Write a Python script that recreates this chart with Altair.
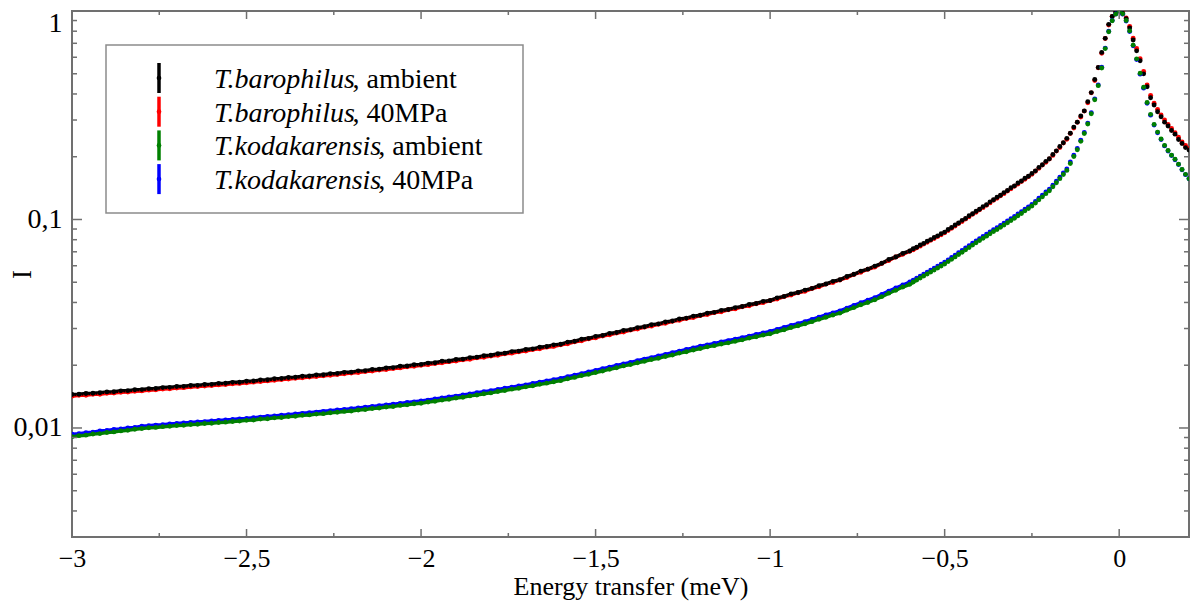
import altair as alt
import numpy as np
import pandas as pd

# ---------------- data ----------------
# energy grid in meV: 0.02 steps in the wings, 0.01 steps near the peak
E_coarse = np.round(np.arange(-3.00, -0.59, 0.02), 2)   # 121 points
E_fine = np.round(np.arange(-0.59, 0.205, 0.01), 2)     # 80 points
energy = np.concatenate([E_coarse, E_fine])

baro_amb = [
    0.01447, 0.01451, 0.01464, 0.01468, 0.01475, 0.01490, 0.01493, 0.01507, 0.01510, 0.01525,
    0.01528, 0.01544, 0.01547, 0.01562, 0.01566, 0.01581, 0.01584, 0.01599, 0.01601, 0.01617,
    0.01619, 0.01636, 0.01639, 0.01655, 0.01657, 0.01675, 0.01680, 0.01699, 0.01703, 0.01722,
    0.01726, 0.01746, 0.01750, 0.01771, 0.01775, 0.01795, 0.01800, 0.01822, 0.01827, 0.01849,
    0.01853, 0.01879, 0.01884, 0.01910, 0.01915, 0.01941, 0.01948, 0.01976, 0.01983, 0.02011,
    0.02018, 0.02048, 0.02057, 0.02089, 0.02097, 0.02129, 0.02140, 0.02175, 0.02187, 0.02222,
    0.02233, 0.02271, 0.02285, 0.02325, 0.02338, 0.02378, 0.02396, 0.02441, 0.02459, 0.02504,
    0.02521, 0.02580, 0.02606, 0.02665, 0.02691, 0.02750, 0.02780, 0.02842, 0.02871, 0.02935,
    0.02963, 0.03029, 0.03060, 0.03126, 0.03157, 0.03224, 0.03258, 0.03332, 0.03365, 0.03439,
    0.03472, 0.03551, 0.03586, 0.03664, 0.03699, 0.03778, 0.03823, 0.03912, 0.03957, 0.04047,
    0.04090, 0.04208, 0.04278, 0.04396, 0.04465, 0.04585, 0.04674, 0.04817, 0.04906, 0.05051,
    0.05137, 0.05329, 0.05458, 0.05652, 0.05780, 0.05975, 0.06163, 0.06425, 0.06611, 0.06875,
    0.07060,
    0.07240, 0.07365, 0.07550, 0.07680, 0.07866, 0.08005, 0.08200, 0.08345, 0.08548, 0.08698,
    0.08950, 0.09148, 0.09415, 0.09624, 0.09905, 0.1012, 0.1042, 0.1065, 0.1096, 0.1120,
    0.1153, 0.1178, 0.1215, 0.1243, 0.1279, 0.1307, 0.1346, 0.1378, 0.1419, 0.1450,
    0.1496, 0.1529, 0.1577, 0.1611, 0.1664, 0.1711, 0.1778, 0.1829, 0.1901, 0.1955,
    0.2050, 0.2134, 0.2240, 0.2334, 0.2450, 0.2594, 0.2775, 0.2930, 0.3135, 0.3318,
    0.3675, 0.4062, 0.4690, 0.5355, 0.6330, 0.7395, 0.8630, 0.9420, 0.9880, 0.9985,
    0.9750, 0.9180, 0.8295, 0.7265, 0.6440, 0.5770, 0.4995, 0.4330, 0.3835, 0.3540,
    0.3288, 0.3112, 0.2930, 0.2806, 0.2671, 0.2566, 0.2420, 0.2313, 0.2212, 0.2153,
]

baro_40 = [
    0.01421, 0.01435, 0.01436, 0.01451, 0.01452, 0.01466, 0.01470, 0.01483, 0.01489, 0.01500,
    0.01506, 0.01519, 0.01524, 0.01538, 0.01543, 0.01556, 0.01561, 0.01574, 0.01580, 0.01591,
    0.01597, 0.01609, 0.01616, 0.01628, 0.01636, 0.01648, 0.01659, 0.01671, 0.01682, 0.01693,
    0.01706, 0.01717, 0.01730, 0.01742, 0.01754, 0.01766, 0.01780, 0.01791, 0.01806, 0.01818,
    0.01834, 0.01846, 0.01865, 0.01877, 0.01897, 0.01908, 0.01930, 0.01942, 0.01965, 0.01977,
    0.02000, 0.02013, 0.02040, 0.02053, 0.02080, 0.02093, 0.02123, 0.02138, 0.02170, 0.02184,
    0.02215, 0.02233, 0.02268, 0.02285, 0.02321, 0.02337, 0.02379, 0.02400, 0.02442, 0.02462,
    0.02505, 0.02537, 0.02590, 0.02621, 0.02675, 0.02705, 0.02764, 0.02796, 0.02856, 0.02888,
    0.02948, 0.02982, 0.03046, 0.03079, 0.03144, 0.03175, 0.03246, 0.03283, 0.03353, 0.03390,
    0.03461, 0.03500, 0.03575, 0.03612, 0.03689, 0.03726, 0.03812, 0.03858, 0.03946, 0.03992,
    0.04080, 0.04152, 0.04268, 0.04338, 0.04455, 0.04526, 0.04665, 0.04758, 0.04898, 0.04990,
    0.05128, 0.05266, 0.05450, 0.05588, 0.05772, 0.05910, 0.06156, 0.06360, 0.06607, 0.06808,
    0.07045,
    0.07150, 0.07310, 0.07450, 0.07620, 0.07770, 0.07945, 0.08100, 0.08285, 0.08440, 0.08630,
    0.08850, 0.09085, 0.09300, 0.09560, 0.09780, 0.1006, 0.1030, 0.1059, 0.1083, 0.1113,
    0.1140, 0.1171, 0.1201, 0.1236, 0.1264, 0.1300, 0.1330, 0.1370, 0.1403, 0.1443,
    0.1480, 0.1522, 0.1560, 0.1605, 0.1646, 0.1705, 0.1760, 0.1823, 0.1880, 0.1950,
    0.2030, 0.2128, 0.2215, 0.2328, 0.2425, 0.2585, 0.2745, 0.2925, 0.3100, 0.3310,
    0.3630, 0.4050, 0.4640, 0.5340, 0.6270, 0.7380, 0.8560, 0.9420, 0.9850, 1.002,
    0.9800, 0.9260, 0.8440, 0.7400, 0.6610, 0.5900, 0.5130, 0.4420, 0.3940, 0.3610,
    0.3370, 0.3170, 0.3000, 0.2855, 0.2735, 0.2610, 0.2480, 0.2355, 0.2265, 0.2190,
]

koda_amb = [
    0.009085, 0.009190, 0.009240, 0.009355, 0.009400, 0.009515, 0.009575, 0.009685, 0.009740, 0.009855,
    0.009945, 0.010025, 0.010065, 0.010150, 0.010190, 0.010270, 0.010305, 0.010390, 0.010420, 0.010500,
    0.010535, 0.010625, 0.010665, 0.010750, 0.010790, 0.010880, 0.010930, 0.011035, 0.011080, 0.011185,
    0.011235, 0.011340, 0.011390, 0.011505, 0.011555, 0.011660, 0.011715, 0.011835, 0.011890, 0.012010,
    0.012070, 0.012200, 0.012270, 0.012405, 0.012470, 0.012605, 0.012685, 0.012835, 0.012910, 0.013060,
    0.013140, 0.013320, 0.013435, 0.013615, 0.013730, 0.013915, 0.014050, 0.014255, 0.014395, 0.014600,
    0.014735, 0.014965, 0.015125, 0.015355, 0.015515, 0.015750, 0.015945, 0.016210, 0.016405, 0.016675,
    0.016870, 0.017220, 0.017485, 0.017840, 0.018100, 0.018460, 0.018760, 0.019145, 0.019445, 0.019850,
    0.020135, 0.020555, 0.020880, 0.021290, 0.021615, 0.022040, 0.022390, 0.022860, 0.023215, 0.023680,
    0.024040, 0.024500, 0.024830, 0.025285, 0.025610, 0.026065, 0.026470, 0.026995, 0.027395, 0.027925,
    0.028315, 0.029045, 0.029610, 0.030335, 0.030905, 0.031635, 0.032355, 0.033240, 0.033965, 0.034855,
    0.035565, 0.036775, 0.037790, 0.039000, 0.040010, 0.041225, 0.042670, 0.044330, 0.045770, 0.047440,
    0.048870,
    0.05010, 0.05125, 0.05240, 0.05355, 0.05478, 0.05600, 0.05725, 0.05850, 0.05985, 0.06115,
    0.06280, 0.06440, 0.06615, 0.06788, 0.06970, 0.07150, 0.07342, 0.07535, 0.07735, 0.07935,
    0.08130, 0.08320, 0.08545, 0.08755, 0.08960, 0.09180, 0.09405, 0.09650, 0.09890, 0.1013,
    0.1042, 0.1069, 0.1100, 0.1128, 0.1160, 0.1199, 0.1242, 0.1284, 0.1330, 0.1374,
    0.1436, 0.1501, 0.1570, 0.1644, 0.1720, 0.1856, 0.2005, 0.2162, 0.2370, 0.2586,
    0.2870, 0.3216, 0.3755, 0.4385, 0.5325, 0.6600, 0.7955, 0.8975, 0.9660, 1.000,
    0.9690, 0.9005, 0.8025, 0.6860, 0.5895, 0.5025, 0.4305, 0.3642, 0.3193, 0.2858,
    0.2625, 0.2432, 0.2266, 0.2142, 0.2035, 0.1944, 0.1843, 0.1738, 0.1646, 0.1570,
]

koda_40 = [
    0.009340, 0.009385, 0.009490, 0.009545, 0.009665, 0.009720, 0.009840, 0.009890, 0.010010, 0.010060,
    0.010200, 0.010245, 0.010325, 0.010370, 0.010450, 0.010500, 0.010570, 0.010620, 0.010685, 0.010730,
    0.010800, 0.010860, 0.010935, 0.010985, 0.011060, 0.011120, 0.011205, 0.011280, 0.011360, 0.011430,
    0.011520, 0.011590, 0.011680, 0.011755, 0.011845, 0.011920, 0.012015, 0.012095, 0.012190, 0.012275,
    0.012370, 0.012470, 0.012580, 0.012675, 0.012785, 0.012880, 0.013005, 0.013115, 0.013240, 0.013345,
    0.013470, 0.013610, 0.013770, 0.013915, 0.014075, 0.014220, 0.014400, 0.014565, 0.014755, 0.014920,
    0.015105, 0.015290, 0.015505, 0.015690, 0.015905, 0.016095, 0.016345, 0.016565, 0.016815, 0.017040,
    0.017290, 0.017600, 0.017920, 0.018230, 0.018555, 0.018865, 0.019230, 0.019565, 0.019935, 0.020280,
    0.020640, 0.021005, 0.021405, 0.021755, 0.022155, 0.022525, 0.022950, 0.023365, 0.023800, 0.024200,
    0.024650, 0.025035, 0.025455, 0.025835, 0.026255, 0.026640, 0.027130, 0.027590, 0.028080, 0.028535,
    0.029030, 0.029675, 0.030360, 0.030995, 0.031680, 0.032330, 0.033165, 0.033970, 0.034815, 0.035615,
    0.036460, 0.037575, 0.038740, 0.039850, 0.041015, 0.042130, 0.043740, 0.045300, 0.046920, 0.048480,
    0.050100,
    0.05115, 0.05225, 0.05345, 0.05460, 0.05585, 0.05710, 0.05835, 0.05970, 0.06100, 0.06240,
    0.06400, 0.06575, 0.06745, 0.06925, 0.07105, 0.07295, 0.07485, 0.07690, 0.07885, 0.08095,
    0.08290, 0.08490, 0.08710, 0.08930, 0.09140, 0.09360, 0.09590, 0.09840, 0.1008, 0.1033,
    0.1062, 0.1089, 0.1120, 0.1150, 0.1182, 0.1221, 0.1266, 0.1306, 0.1355, 0.1398,
    0.1460, 0.1527, 0.1596, 0.1672, 0.1746, 0.1886, 0.2035, 0.2190, 0.2402, 0.2612,
    0.2900, 0.3250, 0.3790, 0.4420, 0.5370, 0.6640, 0.7990, 0.9010, 0.9680, 0.9990,
    0.9660, 0.8960, 0.7970, 0.6810, 0.5845, 0.4980, 0.4265, 0.3610, 0.3165, 0.2838,
    0.2608, 0.2420, 0.2254, 0.2132, 0.2026, 0.1935, 0.1836, 0.1733, 0.1641, 0.1567,
]

series_names = [
    "T.barophilus, ambient",
    "T.barophilus, 40MPa",
    "T.kodakarensis, ambient",
    "T.kodakarensis, 40MPa",
]
legend_italic = ["T.barophilus", "T.barophilus", "T.kodakarensis", "T.kodakarensis"]
legend_rest = [", ambient", ", 40MPa", ", ambient", ", 40MPa"]
series_colors = ["#000000", "#ff0000", "#008000", "#0000ff"]

x_major = [-3, -2.5, -2, -1.5, -1, -0.5, 0]
x_minor = [-2.75, -2.25, -1.75, -1.25, -0.75, -0.25]
y_major = [0.01, 0.1, 1]
y_minor = [0.004, 0.005, 0.006, 0.007, 0.008, 0.009,
           0.02, 0.03, 0.04, 0.05, 0.06, 0.07, 0.08, 0.09,
           0.2, 0.3, 0.4, 0.5, 0.6, 0.7, 0.8, 0.9]

# ---------------- build tables ----------------
values_by_series = dict(zip(series_names, [baro_amb, baro_40, koda_amb, koda_40]))
draw_order = [series_names[1], series_names[0], series_names[3], series_names[2]]
frames = []
for name in draw_order:
    frames.append(pd.DataFrame({"E": energy, "I": values_by_series[name], "series": name}))
df = pd.concat(frames, ignore_index=True)

# ---------------- layout / style ----------------
W, H = 1117, 526
FONT = "Liberation Serif"
FRAME = "#707070"
LEG_FS = 28
# measured advance widths (em) of the italic species names
italic_em = {"T.barophilus": 4.95, "T.kodakarensis": 5.87}

xs = alt.Scale(domain=[-3, 0.2], nice=False, zero=False)
ys = alt.Scale(type="log", domain=[0.003, 1], nice=False)
color = alt.Color("series:N", scale=alt.Scale(domain=series_names, range=series_colors), legend=None)

x_axis = alt.Axis(
    values=x_major, labelExpr="replace(format(datum.value, '~g'), '.', ',')",
    ticks=False, domain=False, grid=False, labelFlush=False, labelOverlap=False,
    labelFont=FONT, labelFontSize=26, labelColor="black", labelPadding=8,
    title="Energy transfer (meV)", titleFont=FONT, titleFontSize=26, titleFontWeight="normal",
    titleColor="black", titleBaseline="alphabetic", titleY=57,
)
y_axis = alt.Axis(
    values=y_major, labelExpr="replace(toString(datum.value), '.', ',')",
    ticks=False, domain=False, grid=False, labelFlush=True, labelFlushOffset=2, labelOverlap=False,
    labelFont=FONT, labelFontSize=28, labelColor="black", labelPadding=10,
    title="I", titleFont=FONT, titleFontSize=27, titleFontWeight="normal", titleColor="black",
    titleAngle=270, titleBaseline="alphabetic", titleAlign="center", titleX=-42, titleY=H / 2,
)

X = alt.X("E:Q", scale=xs, axis=x_axis)
Y = alt.Y("I:Q", scale=ys, axis=y_axis)

lines = alt.Chart(df).transform_filter("datum.E <= -0.58").mark_line(strokeWidth=3.5, clip=True).encode(
    x=X, y=Y, color=color, detail="series:N",
)
points = alt.Chart(df).mark_circle(size=24, opacity=1, clip=True).encode(
    x=X, y=Y, color=color,
)

# inward ticks on all four sides
def xticks(vals, length):
    base = alt.Chart(pd.DataFrame({"E": vals})).mark_rule(color=FRAME, strokeWidth=1.5)
    return [base.encode(x=X, y=alt.value(H), y2=alt.value(H - length)),
            base.encode(x=X, y=alt.value(0), y2=alt.value(length))]

def yticks(vals, length):
    base = alt.Chart(pd.DataFrame({"I": vals})).mark_rule(color=FRAME, strokeWidth=1.5)
    return [base.encode(y=Y, x=alt.value(0), x2=alt.value(length)),
            base.encode(y=Y, x=alt.value(W), x2=alt.value(W - length))]

tick_layers = xticks(x_major, 8) + xticks(x_minor, 4) + yticks(y_major, 10) + yticks(y_minor, 5)

# legend drawn by hand (mixed italic / upright text)
leg = pd.DataFrame({"series": series_names, "italic": legend_italic, "rest": legend_rest,
                    "row": list(range(4))})
leg["ly"] = 67 + 33.7 * leg["row"]
leg["ty"] = leg["ly"] + 2
leg["y1"] = leg["ly"] - 15
leg["y2"] = leg["ly"] + 15
leg["rx"] = 142 + leg["italic"].map(italic_em) * LEG_FS

box = alt.Chart(pd.DataFrame({"a": [0]})).mark_rect(fill="white", stroke="#8c8c8c", strokeWidth=1.5).encode(
    x=alt.value(34), x2=alt.value(451), y=alt.value(34), y2=alt.value(202))
leg_bar = alt.Chart(leg).mark_rule(strokeWidth=3.5).encode(
    x=alt.value(87), y=alt.Y("y1:Q", scale=None), y2="y2:Q", color=color)
leg_dot = alt.Chart(leg).mark_circle(size=22, opacity=1).encode(
    x=alt.value(87), y=alt.Y("ly:Q", scale=None), color=color)
leg_it = alt.Chart(leg).mark_text(font=FONT, fontSize=LEG_FS, fontStyle="italic", align="left",
                                  baseline="middle", color="black").encode(
    x=alt.value(142), y=alt.Y("ty:Q", scale=None), text="italic:N")
leg_rest = alt.Chart(leg).mark_text(font=FONT, fontSize=LEG_FS, align="left",
                                    baseline="middle", color="black").encode(
    x=alt.X("rx:Q", scale=None), y=alt.Y("ty:Q", scale=None), text="rest:N")

chart = alt.layer(
    lines, points, *tick_layers, box, leg_bar, leg_dot, leg_it, leg_rest
).properties(
    width=W, height=H,
    autosize=alt.AutoSizeParams(type="none"),
    padding={"left": 64, "top": 3, "right": 1, "bottom": 70},
).configure_view(stroke=FRAME, strokeWidth=2)

chart.save("out.html", embed_options={"renderer": "svg", "actions": False})
